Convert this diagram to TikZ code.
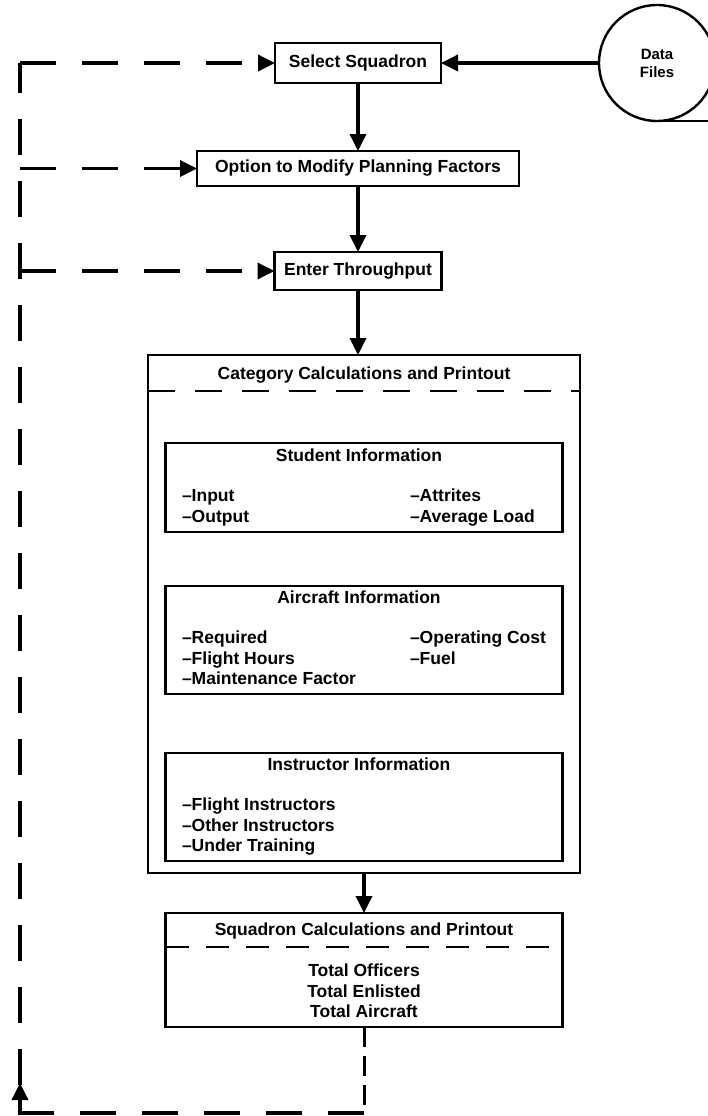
\documentclass[tikz,border=0pt]{standalone}
\usepackage{fontspec}
\setsansfont{Liberation Sans}
\usetikzlibrary{arrows.meta,positioning}
\newcommand{\figfont}{\sffamily\bfseries\fontsize{17.5}{20.5}\selectfont}

\begin{document}
\begin{tikzpicture}[x=1pt, y=-1pt, node distance=40pt,
  box/.style={rectangle, draw, line width=2.6pt, align=center,
    font=\figfont, inner sep=2pt, outer sep=0pt},
  infobox/.style={box, minimum width=397pt, inner ysep=3pt},
  flow/.style={-{Triangle[length=17pt,width=16pt]}, line width=3.5pt},
  loopline/.style={line width=4.2pt, dash pattern=on 36pt off 26pt},
  split/.style={line width=2.2pt, dash pattern=on 27pt off 20pt},
  retline/.style={line width=3pt, dash pattern=on 20pt off 9pt}]
  \useasboundingbox (0,0) rectangle (707,1116);
  % main chain
  \node[box, minimum width=166pt, minimum height=40pt] (sel) at (358,63) {Select Squadron};
  \node[box, minimum width=322pt, minimum height=35pt, below=68pt of sel] (opt)
    {Option to Modify Planning Factors};
  \node[box, minimum width=167pt, minimum height=38pt, below=66pt of opt] (thr)
    {Enter Throughput};
  \node[box, minimum width=432pt, inner ysep=10pt, text height=14pt, text depth=484pt,
    below=65pt of thr, xshift=6pt] (cat) {Category Calculations and Printout};
  \draw[split] ([yshift=-36pt]cat.north west) -- ([yshift=-36pt]cat.north east);
  % information blocks
  \node[infobox, minimum height=89pt, below=88pt of cat.north] (stu)
    {\begin{tabular}{@{}p{228pt}@{}p{136pt}@{}}
      \multicolumn{2}{@{}c@{\hspace{10pt}}}{Student Information}\\[20pt]
      --Input & --Attrites\\
      --Output & --Average Load
    \end{tabular}};
  \node[infobox, minimum height=107pt, below=54pt of stu] (air)
    {\begin{tabular}{@{}p{228pt}@{}p{136pt}@{}}
      \multicolumn{2}{@{}c@{\hspace{10pt}}}{Aircraft Information}\\[20pt]
      --Required & --Operating Cost\\
      --Flight Hours & --Fuel\\
      --Maintenance Factor &
    \end{tabular}};
  \node[infobox, minimum height=106pt, below=59pt of air] (ins)
    {\begin{tabular}{@{}p{228pt}@{}p{136pt}@{}}
      \multicolumn{2}{@{}c@{\hspace{10pt}}}{Instructor Information}\\[20pt]
      --Flight Instructors & \\
      --Other Instructors & \\
      --Under Training &
    \end{tabular}};
  \node[box, minimum width=397pt, minimum height=114pt, below=40pt of cat] (sqd)
    {Squadron Calculations and Printout\\[21pt]
     Total Officers\\ Total Enlisted\\ Total Aircraft};
  \draw[split, dash pattern=on 23pt off 17pt]
    ([yshift=-34pt]sqd.north west) -- ([yshift=-34pt]sqd.north east);
  % data files
  \node[circle, draw, line width=2.4pt, minimum size=116pt, inner sep=0pt, outer sep=0pt,
    align=center, font=\sffamily\bfseries\fontsize{15}{18}\selectfont] (data)
    at (657,63) {Data\\Files};
  \draw[line width=2.4pt] (data.south) -- ++(60,0);
  % arrows
  \draw[flow] (data.west) -- (sel.east);
  \draw[flow] (sel) -- (opt);
  \draw[flow] (opt.south) -- (opt.south |- thr.north);
  \draw[flow] (thr.south) -- (thr.south |- cat.north);
  \draw[flow] (cat) -- (sqd);
  % feedback loop
  \coordinate (rail) at (20,0);
  \coordinate (floor) at (0,1113);
  \draw[retline] (sqd.south) -- (sqd.south |- floor);
  \draw[loopline] (sqd.south |- floor) -- (rail |- floor) -- (rail |- sel.west);
  \draw[flow] (rail |- floor) -- ++(0,-30);
  \foreach \b in {sel,opt,thr}
    \draw[loopline, flow] (rail |- \b.west) -- (\b.west);
\end{tikzpicture}
\end{document}
